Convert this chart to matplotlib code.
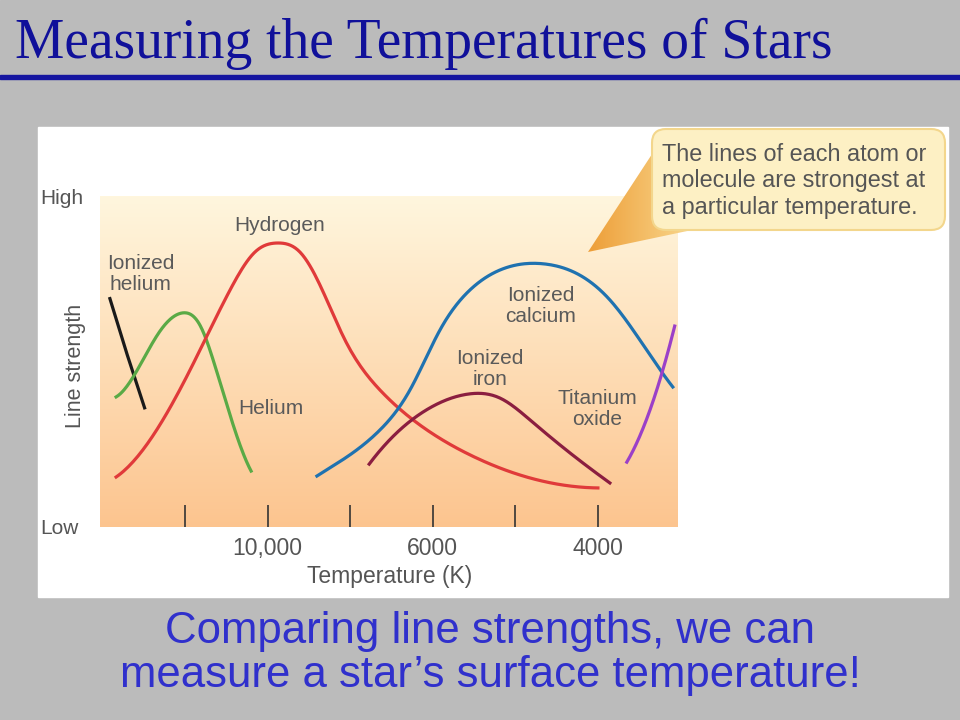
import numpy as np
import matplotlib
matplotlib.use('Agg')
import matplotlib.pyplot as plt
from matplotlib.patches import FancyBboxPatch, Polygon, Rectangle
from scipy.interpolate import make_interp_spline

# tick positions along the temperature axis (non-linear scale, one unit per tick)
tick_pos = [1, 2, 3, 4, 5, 6]
tick_labels = ['', '10,000', '', '6000', '', '4000']

# line strengths (x in tick units, y 0=Low .. 1=High)
ion_helium_x = [0.09, 0.30, 0.51]
ion_helium_y = [0.69, 0.52, 0.36]

helium_x = [0.165, 0.455, 0.697, 0.976, 1.18, 1.36, 1.545, 1.80]
helium_y = [0.393, 0.489, 0.592, 0.647, 0.610, 0.489, 0.338, 0.169]

hydrogen_x = [0.165, 0.576, 1.06, 1.545, 1.848, 2.126, 2.39, 2.634, 2.937, 3.36, 3.845, 4.45, 5.18, 6.0]
hydrogen_y = [0.151, 0.263, 0.474, 0.716, 0.831, 0.858, 0.831, 0.731, 0.565, 0.414, 0.308, 0.218, 0.148, 0.118]

calcium_x = [2.597, 2.997, 3.36, 3.724, 4.087, 4.45, 4.81, 5.345, 5.78, 6.145, 6.508, 6.907]
calcium_y = [0.154, 0.218, 0.293, 0.414, 0.595, 0.716, 0.776, 0.795, 0.761, 0.686, 0.565, 0.423]

iron_x = [3.23, 3.60, 3.966, 4.44, 4.81, 5.18, 5.54, 5.90, 6.145]
iron_y = [0.190, 0.293, 0.360, 0.402, 0.390, 0.323, 0.248, 0.178, 0.133]

tio_x = [6.35, 6.63, 6.93]
tio_y = [0.196, 0.353, 0.607]


def smooth(x, y, k=3):
    x = np.asarray(x)
    y = np.asarray(y)
    if len(x) <= k:
        k = len(x) - 1
    xs = np.linspace(x[0], x[-1], 200)
    return xs, make_interp_spline(x, y, k=k)(xs)


fig = plt.figure(figsize=(9.6, 7.2), dpi=100)

# slide background in pixel coordinates
bg = fig.add_axes([0, 0, 1, 1])
bg.set_xlim(0, 960)
bg.set_ylim(720, 0)
bg.axis('off')
bg.add_patch(Rectangle((0, 0), 960, 720, color='#bbbbbb', zorder=0))
bg.add_patch(Rectangle((0, 74.5), 960, 4.5, color='#1515a0', zorder=1))
bg.add_patch(Rectangle((38, 127), 910, 470, color='white', zorder=1))

bg.text(15, 58, 'Measuring the Temperatures of Stars', family='Liberation Serif',
        fontsize=40, color='#10109a', ha='left', va='baseline')

bg.text(490, 643, 'Comparing line strengths, we can', family='Liberation Sans',
        fontsize=31.5, color='#3030cc', ha='center', va='baseline')
bg.text(490, 687, 'measure a star\u2019s surface temperature!', family='Liberation Sans',
        fontsize=31.5, color='#3030cc', ha='center', va='baseline')

lbl = dict(family='Liberation Sans', color='#555555')
bg.text(75, 366, 'Line strength', rotation=90, fontsize=15.5, ha='center', va='center', **lbl)
bg.text(390, 577, 'Temperature (K)', fontsize=16.5, ha='center', va='center', **lbl)

# chart
ax = fig.add_axes([100 / 960, (720 - 527) / 720, 578 / 960, 331 / 720])
ax.set_xlim(-0.03, 6.97)
ax.set_ylim(0, 1)
grad = np.linspace(0, 1, 256).reshape(-1, 1)
top = np.array([1.0, 0.965, 0.87])
bot = np.array([0.99, 0.77, 0.56])
img = top + (bot - top) * grad[:, :, None]
ax.imshow(img, extent=(-0.03, 6.97, 0, 1), aspect='auto', origin='upper', zorder=0)
for s in ax.spines.values():
    s.set_visible(False)

ax.set_xticks(tick_pos, tick_labels)
ax.tick_params(axis='x', direction='in', length=16, width=1.2, color='#333333',
               labelsize=16.5, labelcolor='#555555', pad=7)
ax.set_yticks([0, 1], ['Low', 'High'])
ax.tick_params(axis='y', length=0, labelsize=15, labelcolor='#555555', pad=43)
for t in ax.get_yticklabels():
    t.set_horizontalalignment('left')
    t.set_family('Liberation Sans')
for t in ax.get_xticklabels():
    t.set_family('Liberation Sans')

lw = 2.3
ax.plot(ion_helium_x, ion_helium_y, color='#1a1a1a', lw=lw, zorder=3)
ax.plot(*smooth(helium_x, helium_y), color='#5aaa46', lw=lw, zorder=3)
ax.plot(*smooth(hydrogen_x, hydrogen_y), color='#e03a3a', lw=lw, zorder=3)
ax.plot(*smooth(calcium_x, calcium_y), color='#1f72b0', lw=lw, zorder=3)
ax.plot(*smooth(iron_x, iron_y), color='#8b1e40', lw=lw, zorder=3)
ax.plot(*smooth(tio_x, tio_y, k=2), color='#9b40c8', lw=lw, zorder=3)

tk = dict(family='Liberation Sans', color='#5a5a5a', fontsize=15,
          ha='center', va='center', linespacing=1.15, zorder=4)
ax.text(2.14, 0.91, 'Hydrogen', **tk)
ax.text(0.46, 0.765, 'Ionized\nhelium', **tk)
ax.text(2.04, 0.357, 'Helium', **tk)
ax.text(5.31, 0.667, 'Ionized\ncalcium', **tk)
ax.text(4.69, 0.477, 'Ionized\niron', **tk)
ax.text(5.99, 0.356, 'Titanium\noxide', **tk)

# callout drawn on top of the chart
ov = fig.add_axes([0, 0, 1, 1])
ov.set_xlim(0, 960)
ov.set_ylim(720, 0)
ov.axis('off')
ov.patch.set_alpha(0)
ptr = Polygon([[588, 252], [656, 148], [692, 230]], closed=True,
              facecolor='none', edgecolor='none')
ov.add_patch(ptr)
pg = np.linspace(0, 1, 128).reshape(1, -1)
c0 = np.array([0.93, 0.62, 0.22])
c1 = np.array([0.98, 0.86, 0.58])
pimg = c0 + (c1 - c0) * pg[:, :, None]
gi = ov.imshow(pimg, extent=(588, 700, 252, 140), aspect='auto', zorder=5)
gi.set_clip_path(ptr)
ov.set_xlim(0, 960)
ov.set_ylim(720, 0)
ov.add_patch(FancyBboxPatch((652, 129), 293, 101, boxstyle='round,pad=0,rounding_size=14',
                            facecolor='#fdf0c4', edgecolor='#f3d68c', lw=1.5, zorder=6))
ov.text(662, 181, 'The lines of each atom or\nmolecule are strongest at\na particular temperature.',
        family='Liberation Sans', fontsize=16.8, color='#555555', ha='left', va='center',
        linespacing=1.17, zorder=7)

fig.savefig('out.png', dpi=100)
